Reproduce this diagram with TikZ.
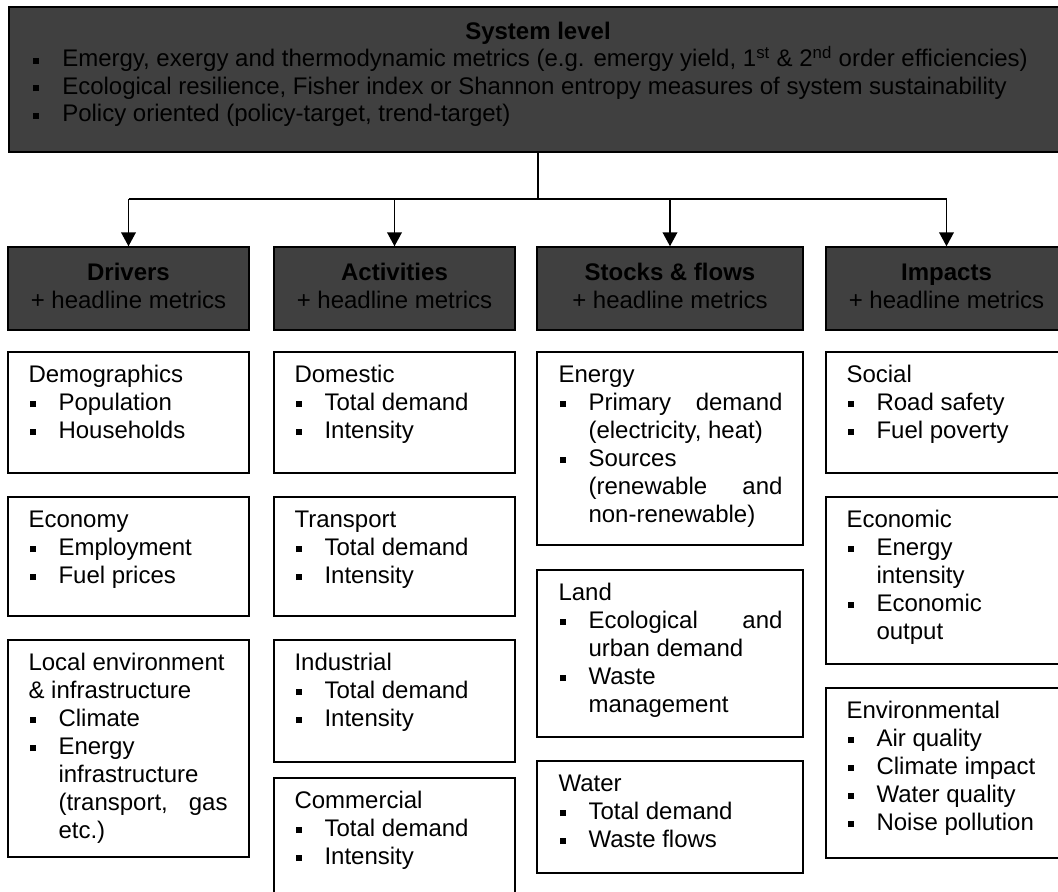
\documentclass[tikz,border=0pt]{standalone}
\usepackage{fontspec}
\setmainfont{Liberation Sans}
\usetikzlibrary{arrows.meta,fit}
\definecolor{hdr}{RGB}{64,64,64}
\newcommand\bul{\makebox[22.5pt][l]{\hspace{1.1pt}\rule[2.3pt]{4.5pt}{4.5pt}}}
\newcommand\tbul{\makebox[21.75pt][l]{\rule[2.3pt]{4.5pt}{4.5pt}}}
\newcommand\ind{\hspace*{22.5pt}}
\tikzset{
  dark/.style={draw=black, fill=hdr, line width=1.1pt, inner sep=0pt},
  cbox/.style={draw=black, fill=white, line width=1.1pt, inner sep=0pt},
  txt/.style={anchor=base west, inner sep=0pt, font=\fontsize{18pt}{21pt}\selectfont},
  htxt/.style={anchor=base, inner sep=0pt, font=\fontsize{18pt}{21pt}\selectfont},
  conn/.style={line width=1.3pt, draw=black},
  arr/.style={conn, -{Triangle[width=11pt,length=10.5pt]}},
}
\begin{document}
\begin{tikzpicture}[x=0.75pt,y=-0.75pt]
\useasboundingbox (0,0) rectangle (1058,892);
\clip (0,0) rectangle (1058,892);

% top box
\node[dark, fit={(9,7) (1067,152)}] (top) {};
\node[htxt] (sysT) at ([shift={(0,33)}]top.north) {\textbf{System level}};
\node[txt, font=\fontsize{18pt}{20.6pt}\selectfont] (sysL) at (33,67) {\parbox[t]{1000pt}{%
\tbul Emergy, exergy and thermodynamic metrics (e.g. emergy yield, 1\textsuperscript{st} \& 2\textsuperscript{nd} order efficiencies)\\
\tbul Ecological resilience, Fisher index or Shannon entropy measures of system sustainability\\
\tbul Policy oriented (policy-target, trend-target)}};

% headers
\node[dark, fit={(8,247) (249,330)}] (drv) {};
\node[dark, fit={(274,247) (515,330)}] (act) {};
\node[dark, fit={(537,247) (803,330)}] (stk) {};
\node[dark, fit={(826,247) (1067,330)}] (imp) {};
\node[htxt] (drvA) at ([shift={(0,34)}]drv.north) {\textbf{Drivers}};
\node[htxt] (drvB) at ([shift={(0,62)}]drv.north) {+ headline metrics};
\node[htxt] (actA) at ([shift={(0,34)}]act.north) {\textbf{Activities}};
\node[htxt] (actB) at ([shift={(0,62)}]act.north) {+ headline metrics};
\node[htxt] (stkA) at ([shift={(0,34)}]stk.north) {\textbf{Stocks \& flows}};
\node[htxt] (stkB) at ([shift={(0,62)}]stk.north) {+ headline metrics};
\node[htxt] (impA) at ([shift={(0,34)}]imp.north) {\textbf{Impacts}};
\node[htxt] (impB) at ([shift={(0,62)}]imp.north) {+ headline metrics};

% connectors
\coordinate (bus) at (538,199);
\draw[conn] (top.south) -- (bus);
\draw[conn] (bus -| drv.north) -- (bus -| imp.north);
\draw[arr] (bus -| drv.north) -- (drv.north);
\draw[arr] (bus -| act.north) -- (act.north);
\draw[arr] (bus -| stk.north) -- (stk.north);
\draw[arr] (bus -| imp.north) -- (imp.north);

% Drivers column
\node[cbox, fit={(8,352) (249,473)}] (demo) {};
\node[txt] (demoT) at ([shift={(21,31)}]demo.north west) {\parbox[t]{149.25pt}{Demographics\\\bul Population\\\bul Households}};
\node[cbox, fit={(8,497) (249,616)}] (econ) {};
\node[txt] (econT) at ([shift={(21,31)}]econ.north west) {\parbox[t]{149.25pt}{Economy\\\bul Employment\\\bul Fuel prices}};
\node[cbox, fit={(8,640) (249,857)}] (locl) {};
\node[txt] (loclT) at ([shift={(21,31)}]locl.north west) {\parbox[t]{149.25pt}{Local environment\\\& infrastructure\\\bul Climate\\\bul Energy\\\ind infrastructure\\\ind\hbox to 126.75pt{(transport,\hfill gas}\\\ind etc.)}};

% Activities column
\node[cbox, fit={(274,352) (515,473)}] (dom) {};
\node[txt] (domT) at ([shift={(21,31)}]dom.north west) {\parbox[t]{149.25pt}{Domestic\\\bul Total demand\\\bul Intensity}};
\node[cbox, fit={(274,497) (515,616)}] (trn) {};
\node[txt] (trnT) at ([shift={(21,31)}]trn.north west) {\parbox[t]{149.25pt}{Transport\\\bul Total demand\\\bul Intensity}};
\node[cbox, fit={(274,640) (515,762)}] (ind) {};
\node[txt] (indT) at ([shift={(21,31)}]ind.north west) {\parbox[t]{149.25pt}{Industrial\\\bul Total demand\\\bul Intensity}};
\node[cbox, fit={(274,778) (515,905)}] (com) {};
\node[txt] (comT) at ([shift={(21,31)}]com.north west) {\parbox[t]{149.25pt}{Commercial\\\bul Total demand\\\bul Intensity}};

% Stocks & flows column
\node[cbox, fit={(537,352) (803,545)}] (ener) {};
\node[txt] (enerT) at ([shift={(22,31)}]ener.north west) {\parbox[t]{168pt}{Energy\\\bul\hbox to 145.5pt{Primary\hfill demand}\\\ind (electricity, heat)\\\bul Sources\\\ind\hbox to 145.5pt{(renewable\hfill and}\\\ind non-renewable)}};
\node[cbox, fit={(537,570) (803,737)}] (land) {};
\node[txt] (landT) at ([shift={(22,31)}]land.north west) {\parbox[t]{168pt}{Land\\\bul\hbox to 145.5pt{Ecological\hfill and}\\\ind urban demand\\\bul Waste\\\ind management}};
\node[cbox, fit={(537,761) (803,873)}] (watr) {};
\node[txt] (watrT) at ([shift={(22,31)}]watr.north west) {\parbox[t]{168pt}{Water\\\bul Total demand\\\bul Waste flows}};

% Impacts column
\node[cbox, fit={(826,352) (1067,473)}] (soc) {};
\node[txt] (socT) at ([shift={(21,31)}]soc.north west) {\parbox[t]{149.25pt}{Social\\\bul Road safety\\\bul Fuel poverty}};
\node[cbox, fit={(826,497) (1067,664)}] (ecn) {};
\node[txt] (ecnT) at ([shift={(21,31)}]ecn.north west) {\parbox[t]{149.25pt}{Economic\\\bul Energy\\\ind intensity\\\bul Economic\\\ind output}};
\node[cbox, fit={(826,688) (1067,858)}] (env) {};
\node[txt] (envT) at ([shift={(21,31)}]env.north west) {\parbox[t]{149.25pt}{Environmental\\\bul Air quality\\\bul Climate impact\\\bul Water quality\\\bul Noise pollution}};
\end{tikzpicture}
\end{document}
